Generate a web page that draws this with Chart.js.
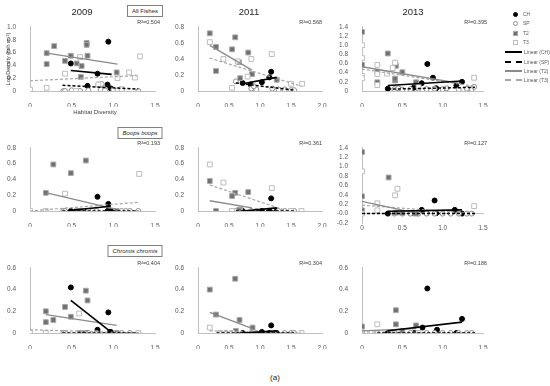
<!DOCTYPE html>
<html><head><meta charset="utf-8">
<script src="https://cdn.jsdelivr.net/npm/chart.js@4.4.1/dist/chart.umd.min.js"></script>
<style>
body{margin:0;background:#fff;}
#wrap{position:relative;width:550px;height:386px;overflow:hidden;font-family:"Liberation Sans",Arial,sans-serif;color:#404040;background:#fff;}
canvas{position:absolute;}
.t{position:absolute;white-space:nowrap;line-height:1;}
</style></head><body><div id="wrap"></div>
<script>
// ---------- labels ----------
const years = ['2009', '2011', '2013'];
const groups = ['All Fishes', 'Boops boops', 'Chromis chromis'];
const r2Labels = ['R²=0.504', 'R²=0.568', 'R²=0.395', 'R²=0.193', 'R²=0.361', 'R²=0.127', 'R²=0.404', 'R²=0.304', 'R²=0.186'];
const seriesNames = ['CH', 'SP', 'T2', 'T3'];
const trendNames = ['Linear (CH)', 'Linear (SP)', 'Linear (T2)', 'Linear (T3)'];
const xAxisTitle = 'Habitat Diversity';
const yAxisTitle = 'Log Density (fish m⁻²)';
const figLabel = '(a)';

// ---------- All Fishes 2009 ----------
const p1CH = [[0.49,0.43],[0.94,0.77],[0.81,0.27],[0.69,0.08],[0.93,0.10],[0.97,0.04]];
const p1SP = [[0.4,0],[0.42,0],[0.5,0.01],[0.6,0],[0.7,0.01],[0.82,0.1],[0.86,0.11],[0.85,0.02],[0.9,0.01],[1.0,0.02],[1.05,0.01],[1.1,0.02],[1.3,0]];
const p1T2 = [[0.2,0.59],[0.29,0.70],[0.2,0.42],[0.42,0.47],[0.49,0.55],[0.56,0.43],[0.62,0.39],[0.68,0.75],[0.68,0.72],[0.69,0.55],[0.61,0.22],[1.04,0.29]];
const p1T3 = [[0,0.02],[0.2,0.05],[0.42,0.27],[0.6,0.53],[0.82,0.1],[1.19,0.29],[1.32,0.54],[1.26,0.21],[1.05,0.2],[0.55,0],[1.1,0.03]];
const p1CHfit = [[0.49,0.32],[0.98,0.26]];
const p1SPfit = [[0.39,0.09],[1.3,0.03]];
const p1T2fit = [[0.2,0.59],[1.05,0.42]];
const p1T3fit = [[0,0.16],[1.28,0.24]];

// ---------- All Fishes 2011 ----------
const p2CH = [[1.18,0.24],[0.72,0.1],[1.03,0.11],[0.85,0.08],[1.15,0.17]];
const p2SP = [[0.61,0.12],[0.86,0.03],[0.94,0.02],[0.9,0.06],[1.2,0.03],[1.3,0.02],[1.4,0.02],[1.5,0.01],[1.55,0.01]];
const p2T2 = [[0.19,0.72],[0.29,0.55],[0.6,0.67],[0.55,0.52],[0.81,0.48],[0.66,0.36],[0.29,0.25],[0.68,0.16],[1.27,0.14],[0.87,0.21]];
const p2T3 = [[0.19,0.61],[0.41,0.4],[0.86,0.4],[1.19,0.46],[0.55,0.04],[1.68,0.09],[1.5,0.09],[0.64,0.37],[0.8,0.18]];
const p2CHfit = [[0.72,0.09],[1.27,0.17]];
const p2SPfit = [[0.61,0.1],[1.56,0.01]];
const p2T2fit = [[0.19,0.57],[0.87,0.26]];
const p2T3fit = [[0.19,0.41],[1.67,0.06]];

// ---------- All Fishes 2013 ----------
const p3CH = [[0.81,0.59],[0.88,0.29],[1.24,0.2],[1.17,0.12],[0.92,0.06],[0.74,0.17],[0.32,0.05],[0.64,0.07],[0.67,0.09]];
const p3SP = [[0.4,0.04],[0.45,0.06],[0.5,0.03],[0.6,0.04],[0.7,0.05],[0.8,0.04],[0.9,0.05],[1.0,0.04],[1.05,0.06],[1.2,0.03],[1.3,0.05],[1.36,0.04],[1.39,0.09]];
const p3T2 = [[0,1.29],[0,0.57],[0.32,0.82],[0.42,0.55],[0.41,0.23],[0.41,0.27],[0.5,0.41],[0.19,0.19],[0.19,0.42],[0.67,0.19]];
const p3T3 = [[0,1.0],[0,0.72],[0,0.33],[0,0.28],[0.19,0.57],[0.19,0.37],[0.19,0.13],[0.31,0.38],[0.41,0.62],[0.38,0.5],[0.7,0.1],[1.39,0.29]];
const p3CHfit = [[0.32,0.12],[1.24,0.22]];
const p3SPfit = [[0.32,0.04],[1.4,0.08]];
const p3T2fit = [[0,0.53],[1.23,0.16]];
const p3T3fit = [[0,0.48],[1.4,0.1]];

// ---------- Boops boops 2009 ----------
const p4CH = [[0.81,0.18],[0.94,0.09],[0.49,0],[0.93,0],[0.97,0],[0.69,0]];
const p4SP = [[0.4,0],[0.42,0],[0.6,0],[0.7,0],[0.75,0],[0.8,0],[1.05,0],[1.1,0],[1.15,0],[1.2,0],[1.3,0]];
const p4T2 = [[0.28,0.59],[0.49,0.48],[0.67,0.64],[0.19,0.23],[0.61,0],[0.56,0],[1.04,0]];
const p4T3 = [[0.42,0.22],[1.31,0.47],[0.19,0],[0,0]];
const p4CHfit = [[0.49,0.01],[0.97,0.06]];
const p4SPfit = [[0.39,0],[1.3,0]];
const p4T2fit = [[0.2,0.23],[1.04,0.02]];
const p4T3fit = [[0,0],[1.3,0.11]];

// ---------- Boops boops 2011 ----------
const p5CH = [[1.18,0.16],[0.72,0],[1.15,0],[1.27,0],[1.03,0]];
const p5SP = [[0.61,0],[0.86,0],[0.94,0],[1.3,0],[1.4,0],[1.5,0],[1.55,0]];
const p5T2 = [[0.19,0.38],[0.6,0.23],[0.55,0.19],[0.81,0.24],[0.29,0],[0.68,0.02],[0.66,0.01]];
const p5T3 = [[0.19,0.59],[0.41,0.36],[1.19,0.29],[1.67,0],[0.55,0],[1.5,0]];
const p5CHfit = [[0.72,0],[1.27,0.04]];
const p5SPfit = [[0.61,0],[1.55,0]];
const p5T2fit = [[0.19,0.13],[0.87,0.04]];
const p5T3fit = [[0.19,0.33],[1.67,-0.06]];

// ---------- Boops boops 2013 ----------
const p6CH = [[0.9,0.28],[0.74,0.08],[1.15,0.08],[0.32,0],[0.64,0.01],[0.8,0.02],[0.92,0.01],[1.24,0]];
const p6SP = [[0.4,0],[0.5,0],[0.6,0],[0.7,0],[0.8,0],[0.9,0],[1.0,0],[1.1,0],[1.2,0],[1.3,0],[1.36,0]];
const p6T2 = [[0,1.31],[0,0.37],[0.33,0.77],[0,0.07],[0.42,0.02],[0.5,0.01],[0.67,0]];
const p6T3 = [[0,0.9],[0.44,0.53],[0.41,0.39],[1.39,0.16],[0.19,0.22],[0.19,0.07],[0,0]];
const p6CHfit = [[0.32,0.05],[1.24,0.08]];
const p6SPfit = [[0,0],[1.4,0]];
const p6T2fit = [[0,0.26],[0.67,0.01]];
const p6T3fit = [[0,0.18],[1.39,0.0]];

// ---------- Chromis chromis 2009 ----------
const p7CH = [[0.49,0.42],[0.94,0.19],[0.81,0.03],[0.96,0.01],[0.97,0.01],[0.69,0]];
const p7SP = [[0.4,0],[0.42,0],[0.6,0],[0.7,0],[0.8,0],[1.05,0],[1.1,0],[1.2,0],[1.3,0]];
const p7T2 = [[0.19,0.2],[0.19,0.1],[0.28,0.12],[0.42,0.24],[0.49,0.15],[0.67,0.39],[0.69,0.3],[0.6,0],[0.65,0],[1.04,0]];
const p7T3 = [[0.59,0.18],[0.19,0],[0,0],[1.3,0]];
const p7CHfit = [[0.49,0.3],[0.97,0.01]];
const p7SPfit = [[0.39,0],[1.3,0]];
const p7T2fit = [[0.19,0.17],[1.04,0.07]];
const p7T3fit = [[0,0.03],[1.3,0.0]];

// ---------- Chromis chromis 2011 ----------
const p8CH = [[1.18,0.07],[0.72,0],[1.03,0.01],[1.15,0],[1.27,0]];
const p8SP = [[0.35,0],[0.45,0],[0.61,0],[0.86,0],[0.94,0],[1.4,0],[1.5,0],[1.55,0]];
const p8T2 = [[0.19,0.4],[0.6,0.5],[0.29,0.17],[0.67,0.12],[0.88,0.05],[0.61,0.02]];
const p8T3 = [[0.19,0.05],[1.67,0],[0.55,0]];
const p8CHfit = [[0.72,0],[1.27,0.02]];
const p8SPfit = [[0.3,0],[1.55,0]];
const p8T2fit = [[0.19,0.19],[0.88,0.04]];
const p8T3fit = [[0.19,0.02],[1.67,0]];

// ---------- Chromis chromis 2013 ----------
const p9CH = [[0.81,0.41],[1.24,0.13],[0.75,0.05],[0.93,0.03],[1.17,0],[0.65,0],[0.32,0]];
const p9SP = [[0.19,0],[0.4,0],[0.5,0],[0.6,0],[0.7,0],[0.8,0],[0.9,0],[1.0,0],[1.1,0],[1.2,0],[1.3,0],[1.36,0]];
const p9T2 = [[0.42,0.21],[0.42,0.08],[0.67,0.07],[0,0.06],[0.5,0.02]];
const p9T3 = [[0.19,0.08],[0,0.01],[0.7,0.0]];
const p9CHfit = [[0.32,0.02],[1.24,0.1]];
const p9SPfit = [[0.19,0],[1.4,0]];
const p9T2fit = [[0,0.02],[0.67,0.04]];
const p9T3fit = [[0,0.01],[1.39,0]];

// ---------- axis ranges ----------
const yMaxes = [1, 0.8, 1.4, 0.8, 0.8, 1.4, 0.6, 0.6, 0.6];
const yMins = [0, 0, 0, 0, 0, -0.2, 0, 0, 0];
const xMaxes = [1.5, 2, 1.5, 1.5, 2, 1.5, 1.5, 2, 1.5];

const panelData = [
  [p1CH,p1SP,p1T2,p1T3,p1CHfit,p1SPfit,p1T2fit,p1T3fit],
  [p2CH,p2SP,p2T2,p2T3,p2CHfit,p2SPfit,p2T2fit,p2T3fit],
  [p3CH,p3SP,p3T2,p3T3,p3CHfit,p3SPfit,p3T2fit,p3T3fit],
  [p4CH,p4SP,p4T2,p4T3,p4CHfit,p4SPfit,p4T2fit,p4T3fit],
  [p5CH,p5SP,p5T2,p5T3,p5CHfit,p5SPfit,p5T2fit,p5T3fit],
  [p6CH,p6SP,p6T2,p6T3,p6CHfit,p6SPfit,p6T2fit,p6T3fit],
  [p7CH,p7SP,p7T2,p7T3,p7CHfit,p7SPfit,p7T2fit,p7T3fit],
  [p8CH,p8SP,p8T2,p8T3,p8CHfit,p8SPfit,p8T2fit,p8T3fit],
  [p9CH,p9SP,p9T2,p9T3,p9CHfit,p9SPfit,p9T2fit,p9T3fit]
];

// ---------- layout (pixels) ----------
const colL = [30, 198, 362], colR = [155, 322, 483];
const rowT = [23, 144, 264], rowB = [91, 211, 333];
const r2Right = [160, 322, 487];

const wrap = document.getElementById('wrap');
const toXY = a => a.map(p => ({x: p[0], y: p[1]}));

const markerStyles = [
  {pointStyle:'circle', radius:2.5, bg:'#000000', bc:'#000000', bw:1},
  {pointStyle:'circle', radius:2.5, bg:'#ffffff', bc:'#8c8c8c', bw:1},
  {pointStyle:'rect', radius:3.4, bg:'#707070', bc:'#a8a8a8', bw:1},
  {pointStyle:'rect', radius:3.4, bg:'#ffffff', bc:'#bdbdbd', bw:1}
];
const lineStyles = [
  {c:'#000000', w:1.6, dash:[]},
  {c:'#000000', w:1.5, dash:[3,2]},
  {c:'#8a8a8a', w:1.3, dash:[]},
  {c:'#a6a6a6', w:1.2, dash:[3,2]}
];

function makePanel(i) {
  const col = i % 3, row = Math.floor(i / 3);
  const L = colL[col], R = colR[col], T = rowT[row];
  let B = rowB[row];
  if (yMins[i] < 0) B = 223;
  const padL = 28, padT = 6, padR = 8, padB = 16;
  const W = R - L + padL + padR, H = B - T + padT + padB;
  const cv = document.createElement('canvas');
  cv.width = W; cv.height = H;
  cv.style.left = (L - padL) + 'px'; cv.style.top = (T - padT) + 'px';
  cv.style.width = W + 'px'; cv.style.height = H + 'px';
  wrap.appendChild(cv);
  const d = panelData[i];
  const datasets = [];
  for (let k = 0; k < 4; k++) {
    const ls = lineStyles[k];
    datasets.push({label: trendNames[k], data: toXY(d[4 + k]), showLine: true,
      borderColor: ls.c, borderWidth: ls.w, borderDash: ls.dash, pointRadius: 0, pointHoverRadius: 0, fill: false});
  }
  for (let k = 3; k >= 0; k--) {
    const ms = markerStyles[k];
    datasets.push({label: seriesNames[k], data: toXY(d[k]), showLine: false,
      pointStyle: ms.pointStyle, pointRadius: ms.radius, backgroundColor: ms.bg, borderColor: ms.bc, borderWidth: ms.bw});
  }
  const tickFont = {family: '"Liberation Sans", Arial, sans-serif', size: 6.5};
  new Chart(cv, {
    type: 'scatter',
    data: {datasets},
    options: {
      responsive: false, animation: false, devicePixelRatio: 1,
      layout: {padding: {left: 0, top: padT, right: padR, bottom: padB}},
      plugins: {legend: {display: false}, tooltip: {enabled: false}},
      scales: {
        x: {
          type: 'linear', min: 0, max: xMaxes[i],
          position: {y: 0},
          grid: {display: false}, border: {display: true, color: '#c0c0c0', width: 1},
          ticks: {stepSize: 0.5, font: tickFont, color: '#595959', padding: 3, maxRotation: 0, minRotation: 0, autoSkip: false}
        },
        y: {
          type: 'linear', min: yMins[i], max: yMaxes[i],
          grid: {display: false}, border: {display: true, color: '#c0c0c0', width: 1},
          ticks: {stepSize: 0.2, font: tickFont, color: '#595959', padding: 6, autoSkip: false},
          afterFit: s => { s.width = padL; }
        }
      }
    }
  });
}
for (let i = 0; i < 9; i++) makePanel(i);

// ---------- text ----------
function txt(s, x, y, size, opt) {
  opt = opt || {};
  const e = document.createElement('div');
  e.className = 't';
  e.textContent = s;
  e.style.fontSize = size + 'px';
  e.style.left = x + 'px'; e.style.top = y + 'px';
  let tf = opt.anchor === 'right' ? 'translate(-100%,-50%)' : opt.anchor === 'left' ? 'translate(0,-50%)' : 'translate(-50%,-50%)';
  if (opt.rotate) tf += ' rotate(-90deg)';
  e.style.transform = tf;
  if (opt.italic) e.style.fontStyle = 'italic';
  if (opt.color) e.style.color = opt.color;
  if (opt.bold) e.style.fontWeight = 'bold';
  if (opt.box) { e.style.border = '1px solid #808080'; e.style.padding = '2px 4px'; e.style.background = '#fff'; }
  wrap.appendChild(e);
  return e;
}
const yearX = [82, 249, 413];
years.forEach((y, k) => txt(y, yearX[k], 12, 9.5, {color: '#262626'}));
txt(groups[0], 145, 11, 6, {box: true, color: '#262626'});
txt(groups[1], 140, 132.5, 6, {box: true, italic: true, color: '#262626'});
txt(groups[2], 135, 251, 6, {box: true, italic: true, color: '#262626'});
for (let i = 0; i < 9; i++) {
  const col = i % 3, row = Math.floor(i / 3);
  txt(r2Labels[i], r2Right[col], rowT[row], 5.5, {anchor: 'right', color: '#404040'});
}
txt(xAxisTitle, 95, 112, 6, {color: '#404040'});
txt(yAxisTitle, 9, 59, 5.5, {rotate: true, color: '#404040'});
txt(figLabel, 275, 378, 8, {color: '#262626'});

// ---------- legend ----------
const legMarkY = [14, 23, 33, 42], legLineY = [52, 62, 71, 80];
seriesNames.forEach((n, k) => {
  const ms = markerStyles[k];
  const m = document.createElement('div');
  const sz = 5;
  m.style.position = 'absolute';
  m.style.left = (515 - sz / 2) + 'px'; m.style.top = (legMarkY[k] - sz / 2) + 'px';
  m.style.width = (sz - 2) + 'px'; m.style.height = (sz - 2) + 'px';
  m.style.background = ms.bg; m.style.border = '1px solid ' + ms.bc;
  if (ms.pointStyle === 'circle') m.style.borderRadius = '50%';
  wrap.appendChild(m);
  txt(n, 523, legMarkY[k], 5, {anchor: 'left', color: '#595959'});
});
trendNames.forEach((n, k) => {
  const ls = lineStyles[k];
  const l = document.createElement('div');
  l.style.position = 'absolute';
  l.style.left = '505px'; l.style.top = (legLineY[k] - 1) + 'px';
  l.style.width = '17px'; l.style.height = '0';
  l.style.borderTop = Math.round(ls.w + 0.3) + 'px ' + (ls.dash.length ? 'dashed ' : 'solid ') + ls.c;
  wrap.appendChild(l);
  txt(n, 524, legLineY[k], 5, {anchor: 'left', color: '#595959'});
});
</script></body></html>
